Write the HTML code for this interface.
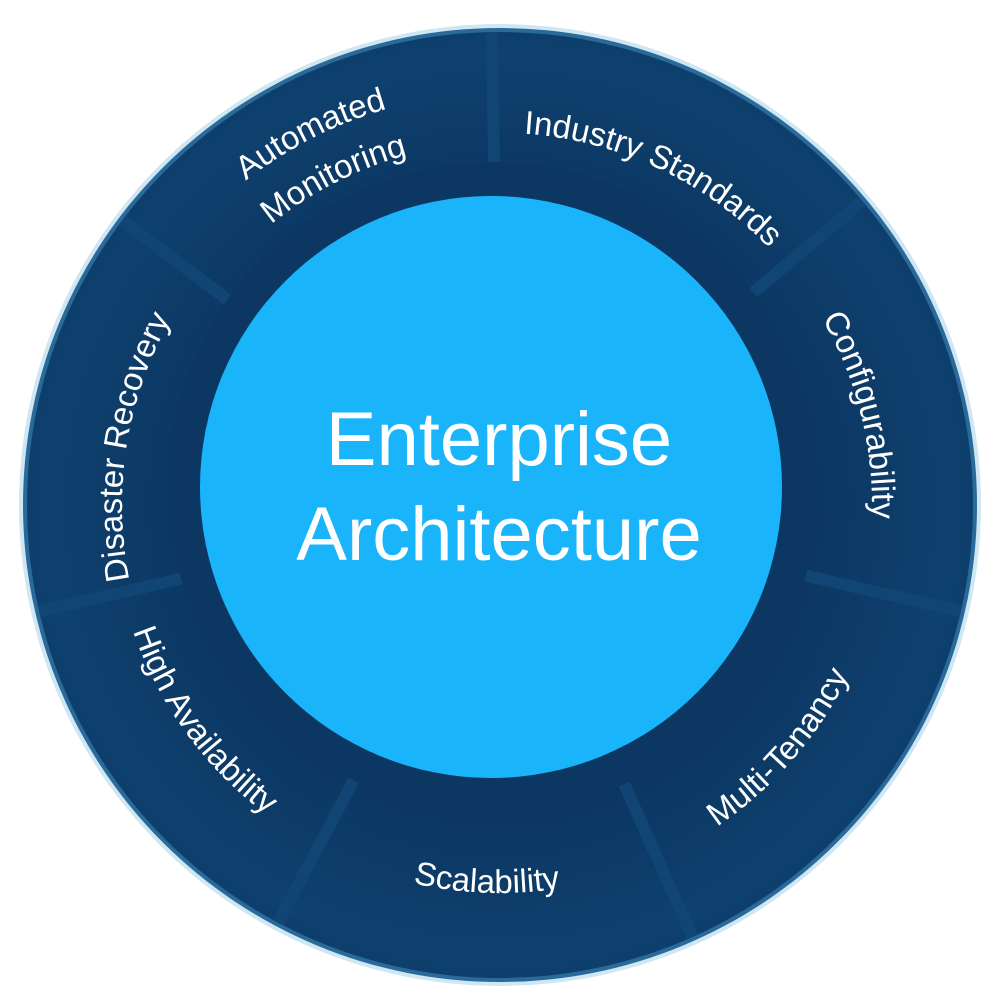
<!DOCTYPE html>
<html><head><meta charset="utf-8"><style>
html,body{margin:0;padding:0;background:#fff;width:1000px;height:1000px;overflow:hidden}
svg{display:block}
text{font-family:"Liberation Sans","DejaVu Sans",sans-serif;fill:#fff}
</style></head><body>
<svg width="1000" height="1000" viewBox="0 0 1000 1000">
<defs>
<radialGradient id="rg" cx="500" cy="505" r="480" gradientUnits="userSpaceOnUse">
<stop offset="0.6" stop-color="#0b3560"/>
<stop offset="0.95" stop-color="#0f416f"/>
<stop offset="1" stop-color="#0d3d6a"/>
</radialGradient>
<path id="cw372" d="M872,505 A372,372 0 1 1 128,505 A372,372 0 1 1 872,505"/>
<path id="cw412" d="M912,505 A412,412 0 1 1 88,505 A412,412 0 1 1 912,505"/>
<path id="cw378" d="M878,505 A378,378 0 1 1 122,505 A378,378 0 1 1 878,505"/>
<path id="cw362" d="M862,505 A362,362 0 1 1 138,505 A362,362 0 1 1 862,505"/>
<path id="ccw388" d="M888,505 A388,388 0 1 0 112,505 A388,388 0 1 0 888,505"/>
</defs>
<circle cx="500" cy="505" r="481" fill="#cfe6f3"/>
<circle cx="500" cy="505" r="477" fill="#2a6a9a"/>
<circle cx="500" cy="505" r="473" fill="url(#rg)"/>
<g stroke="#114674" stroke-width="12">
<line x1="500" y1="505" x2="973" y2="505" transform="rotate(13 500 505)"/>
<line x1="500" y1="505" x2="973" y2="505" transform="rotate(66 500 505)"/>
<line x1="500" y1="505" x2="973" y2="505" transform="rotate(118 500 505)"/>
<line x1="500" y1="505" x2="973" y2="505" transform="rotate(167 500 505)"/>
<line x1="500" y1="505" x2="973" y2="505" transform="rotate(217 500 505)"/>
<line x1="500" y1="505" x2="973" y2="505" transform="rotate(269 500 505)"/>
<line x1="500" y1="505" x2="973" y2="505" transform="rotate(320 500 505)"/>
</g>
<circle cx="493" cy="487" r="325" fill="#0c3762"/>
<circle cx="491" cy="487" r="291" fill="#1ab4fb"/>
<text x="499" y="465" font-size="76" text-anchor="middle">Enterprise</text>
<text x="499" y="560" font-size="76" text-anchor="middle">Architecture</text>
<g font-size="33">
<g transform="rotate(166 500 505)"><text><textPath href="#cw372" startOffset="50%" text-anchor="middle">Configurability</textPath></text></g>
<g transform="rotate(115 500 505)"><text><textPath href="#cw372" startOffset="50%" text-anchor="middle">Industry Standards</textPath></text></g>
<g transform="rotate(63 500 505)"><text><textPath href="#cw412" startOffset="50%" text-anchor="middle">Automated</textPath></text></g>
<g transform="rotate(63 500 505)"><text><textPath href="#cw362" startOffset="50%" text-anchor="middle">Monitoring</textPath></text></g>
<g transform="rotate(9 500 505)"><text><textPath href="#cw378" startOffset="50%" text-anchor="middle">Disaster Recovery</textPath></text></g>
<g transform="rotate(-36 500 505)"><text><textPath href="#ccw388" startOffset="50%" text-anchor="middle">High Availability</textPath></text></g>
<g transform="rotate(-88 500 505)"><text><textPath href="#ccw388" startOffset="50%" text-anchor="middle">Scalability</textPath></text></g>
<g transform="rotate(-139 500 505)"><text><textPath href="#ccw388" startOffset="50%" text-anchor="middle">Multi-Tenancy</textPath></text></g>
</g>
</svg>
</body></html>
